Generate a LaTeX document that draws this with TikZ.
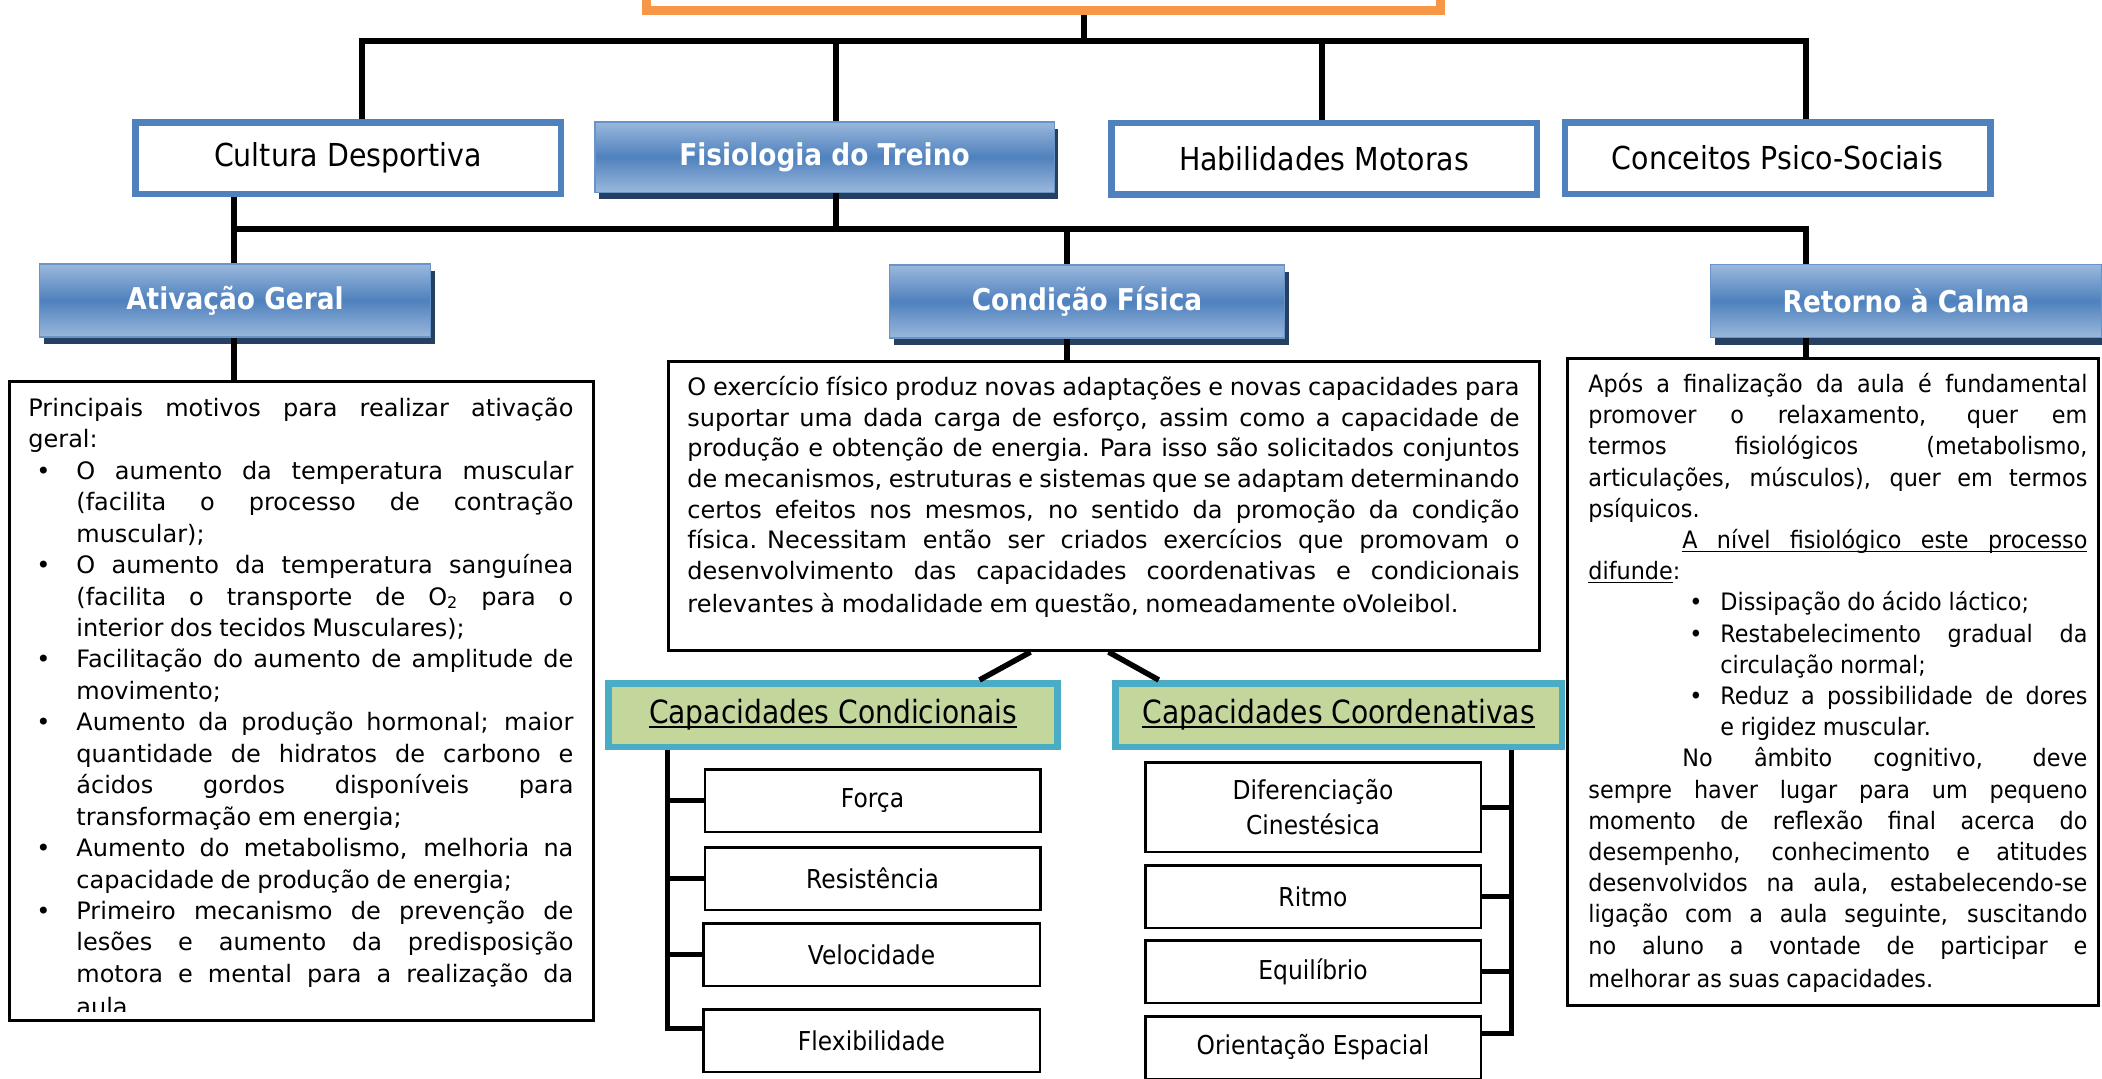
\documentclass[tikz,border=0pt]{standalone}
\usepackage{fontspec}
\setmainfont{DejaVu Sans}
\newfontfamily\labfont{DejaVu Sans}[FakeStretch=0.9]
\newfontfamily\gfont{DejaVu Sans}[FakeStretch=0.88]
\newfontfamily\rfont{DejaVu Sans}[FakeStretch=0.93]
\usetikzlibrary{shadows,calc}
\definecolor{bluebd}{HTML}{4F81BD}
\definecolor{bluelt}{HTML}{9AB8DC}
\definecolor{shadowc}{HTML}{254061}
\definecolor{orangec}{HTML}{F79646}
\definecolor{tealc}{HTML}{4BACC6}
\definecolor{greenf}{HTML}{C3D69B}
\newlength\tw \newlength\bpos \newlength\bind
\newcommand\jsp{\spaceskip=\fontdimen2\font plus \fontdimen2\font minus 0.45\fontdimen2\font\relax}
\newcommand\jl[1]{\strut\makebox[\tw][s]{\jsp#1}}
\newcommand\lastl[1]{\strut#1}
\newcommand\bjl[1]{\strut\hspace*{\bpos}\makebox[\dimexpr\bind-\bpos\relax][l]{\textbullet}\makebox[\dimexpr\tw-\bind\relax][s]{\jsp#1}}
\newcommand\bll[1]{\strut\hspace*{\bpos}\makebox[\dimexpr\bind-\bpos\relax][l]{\textbullet}#1}
\newcommand\ijl[1]{\strut\hspace*{\bind}\makebox[\dimexpr\tw-\bind\relax][s]{\jsp#1}}
\newcommand\ill[1]{\strut\hspace*{\bind}#1}
\newcommand\ulw[1]{\setbox0=\hbox{#1}\rlap{\rule[-1.9pt]{\wd0}{0.7pt}}\box0}
\newcommand\ulbox[2]{\rlap{\rule[-1.9pt]{#1}{0.7pt}}\makebox[#1][s]{\jsp#2}}
\begin{document}
\begin{tikzpicture}[x=0.5pt,y=-0.5pt,
  bus/.style={line width=3pt,line join=miter},
  catbox/.style={draw=bluebd,line width=3.25pt,fill=white,inner sep=0pt,font=\labfont\fontsize{15.8}{18}\selectfont,minimum width=212.75pt,minimum height=35.75pt},
  gradbox/.style={draw=bluebd!85!white,line width=0.75pt,top color=bluelt,bottom color=bluelt,middle color=bluebd,text=white,inner sep=0pt,font=\gfont\bfseries\fontsize{15}{18}\selectfont,drop shadow={shadow xshift=2pt,shadow yshift=-3.5pt,fill=shadowc,opacity=1},minimum height=36.5pt},
  txtbox/.style={draw=black,line width=1.5pt,fill=white,inner sep=0pt},
  txt/.style={inner sep=0pt,anchor=north west},
  greenbox/.style={draw=tealc,line width=3.25pt,fill=greenf,inner sep=0pt,font=\gfont\fontsize{16}{19}\selectfont,minimum height=31.75pt},
  smallbox/.style={draw=black,line width=1.25pt,fill=white,inner sep=0pt,font=\labfont\fontsize{13}{17.5}\selectfont,align=center,minimum width=167.75pt,minimum height=31.25pt},
  spine/.style={line width=2.5pt,line join=miter},
  diag/.style={line width=2.75pt}]
\useasboundingbox (0,0) rectangle (2102,1078);
\fill[white] (0,0) rectangle (2102,1078);

% title box (cut off at top)
\node[draw=orangec,line width=4.5pt,fill=white,inner sep=0pt,minimum width=397pt,minimum height=57pt] (titulo) at (1043.5,-46.5) {};
\draw[orangec,line width=0.75pt] ($(titulo.south west)+(7,-7)$) rectangle ($(titulo.north east)+(-7,7)$);

% level 2
\node[catbox] (cult) at (348,158) {Cultura Desportiva};
\node[gradbox,minimum width=229.75pt,minimum height=35.25pt] (fis) at (824.5,157) {Fisiologia do Treino};
\node[catbox] (hab) at (1324,158.5) {Habilidades Motoras};
\node[catbox] (conc) at (1777.5,158) {Conceitos Psico-Sociais};

% level 3
\node[gradbox,minimum width=195.5pt] (ativ) at (235,300.5) {Ativação Geral};
\node[gradbox,minimum width=197.5pt] (cond) at (1087,301.5) {Condição Física};
\node[gradbox,minimum width=195.5pt] (ret) at (1906,301) {Retorno à Calma};

% bus 1
\coordinate (b1L) at (362,41);
\coordinate (b1F) at (836,41);
\coordinate (b1M) at (1084,41);
\coordinate (b1H) at (1322,41);
\coordinate (b1R) at (1806,41);
\draw[bus] (b1M |- titulo.south) -- (b1M);
\draw[bus] (b1L |- cult.north) -- (b1L) -- (b1R) -- (b1R |- conc.north);
\draw[bus] (b1F) -- (b1F |- fis.north);
\draw[bus] (b1H) -- (b1H |- hab.north);

% bus 2
\coordinate (b2L) at (234,228.5);
\coordinate (b2F) at (836,228.5);
\coordinate (b2C) at (1067,228.5);
\coordinate (b2R) at (1806,228.5);
\draw[bus] (b2L |- cult.south) -- (b2L |- ativ.north);
\draw[bus] (b2L) -- (b2R) -- (b2R |- ret.north);
\draw[bus] (b2F |- fis.south) -- (b2F);
\draw[bus] (b2C) -- (b2C |- cond.north);

% text boxes
\node[txtbox,minimum width=292pt,minimum height=319.5pt] (agbox) at (301.5,701) {};
\node[txtbox,minimum width=435.5pt,minimum height=144.5pt] (fcbox) at (1104,506) {};
\node[txtbox,minimum width=265.5pt,minimum height=323.5pt] (rcbox) at (1833,682) {};
\draw[bus] (ativ.south -| b2L) -- (agbox.north -| b2L);
\draw[bus] (cond.south -| b2C) -- (fcbox.north -| b2C);
\draw[bus] (ret.south -| b2R) -- (rcbox.north -| b2R);

\begin{scope}
\clip (10,382) rectangle (593,1011);
\node[txt,text width=272.5pt] (agtxt) at (28,394) {\fontsize{12}{15.72}\selectfont\setlength\tw{272.5pt}\setlength\bpos{4pt}\setlength\bind{24pt}\noindent
\jl{Principais motivos para realizar ativação}\\
\lastl{geral:}\\
\bjl{O aumento da temperatura muscular}\\
\ijl{(facilita o processo de contração}\\
\ill{muscular);}\\
\bjl{O aumento da temperatura sanguínea}\\
\ijl{(facilita o transporte de O\textsubscript{2} para o}\\
\ill{interior dos tecidos Musculares);}\\
\bjl{Facilitação do aumento de amplitude de}\\
\ill{movimento;}\\
\bjl{Aumento da produção hormonal; maior}\\
\ijl{quantidade de hidratos de carbono e}\\
\ijl{ácidos gordos disponíveis para}\\
\ill{transformação em energia;}\\
\bjl{Aumento do metabolismo, melhoria na}\\
\ill{capacidade de produção de energia;}\\
\bjl{Primeiro mecanismo de prevenção de}\\
\ijl{lesões e aumento da predisposição}\\
\ijl{motora e mental para a realização da}\\
\ill{aula.}};
\end{scope}

\node[txt,text width=416pt] (fctxt) at (687,373.5) {\fontsize{12}{15.35}\selectfont\setlength\tw{416pt}\noindent
\jl{O exercício físico produz novas adaptações e novas capacidades para}\\
\jl{suportar uma dada carga de esforço, assim como a capacidade de}\\
\jl{produção e obtenção de energia. Para isso são solicitados conjuntos}\\
\jl{de mecanismos, estruturas e sistemas que se adaptam determinando}\\
\jl{certos efeitos nos mesmos, no sentido da promoção da condição}\\
\jl{física. Necessitam então ser criados exercícios que promovam o}\\
\jl{desenvolvimento das capacidades coordenativas e condicionais}\\
\lastl{relevantes à modalidade em questão, nomeadamente oVoleibol.}};

\node[txt,text width=249.5pt] (rctxt) at (1588,370.2) {\rfont\fontsize{12}{15.6}\selectfont\setlength\tw{249.5pt}\setlength\bpos{50.5pt}\setlength\bind{66pt}\noindent
\jl{Após a finalização da aula é fundamental}\\
\jl{promover o relaxamento, quer em}\\
\jl{termos fisiológicos (metabolismo,}\\
\jl{articulações, músculos), quer em termos}\\
\lastl{psíquicos.}\\
\strut\hspace*{47pt}\ulbox{\dimexpr\tw-47pt\relax}{A nível fisiológico este processo}\\
\strut\ulw{difunde}:\\
\bll{Dissipação do ácido láctico;}\\
\bjl{Restabelecimento gradual da}\\
\ill{circulação normal;}\\
\bjl{Reduz a possibilidade de dores}\\
\ill{e rigidez muscular.}\\
\strut\hspace*{47pt}\makebox[\dimexpr\tw-47pt\relax][s]{\jsp No âmbito cognitivo, deve}\\
\jl{sempre haver lugar para um pequeno}\\
\jl{momento de reflexão final acerca do}\\
\jl{desempenho, conhecimento e atitudes}\\
\jl{desenvolvidos na aula, estabelecendo-se}\\
\jl{ligação com a aula seguinte, suscitando}\\
\jl{no aluno a vontade de participar e}\\
\lastl{melhorar as suas capacidades.}};

% capacities
\node[greenbox,minimum width=224.5pt] (ccond) at (833,715) {\ulw{Capacidades Condicionais}};
\node[greenbox,minimum width=223.25pt] (ccoord) at (1338.5,715) {\ulw{Capacidades Coordenativas}};
\draw[diag] ($(fcbox.south west)+(363.5,0)$) -- ($(ccond.north west)+(374.25,0)$);
\draw[diag] ($(fcbox.south west)+(441.5,0)$) -- ($(ccoord.north west)+(46.75,0)$);

\node[smallbox] (forca) at (872.5,800.5) {Força};
\node[smallbox] (resist) at (872.5,878.5) {Resistência};
\node[smallbox,minimum width=168.25pt] (veloc) at (871.5,954.5) {Velocidade};
\node[smallbox,minimum width=168.25pt] (flex) at (871.5,1040.5) {Flexibilidade};
\node[smallbox,minimum height=44.75pt] (difer) at (1313,807) {Diferenciação\\Cinestésica};
\node[smallbox] (ritmo) at (1313,896.5) {Ritmo};
\node[smallbox] (equil) at (1313,971.5) {Equilíbrio};
\node[smallbox] (orient) at (1313,1047.5) {Orientação Espacial};

\coordinate (spL) at (667,0);
\coordinate (spR) at (1511,0);
\coordinate (fS) at (702,1028);
\coordinate (oS) at (1482,1033);
\draw[spine] (spL |- ccond.south) -- (spL |- fS) -- (fS);
\draw[spine] (spL |- forca.west) -- (forca.west);
\draw[spine] (spL |- resist.west) -- (resist.west);
\draw[spine] (spL |- veloc.west) -- (veloc.west);
\draw[spine] (spR |- ccoord.south) -- (spR |- oS) -- (oS);
\draw[spine] (spR |- difer.east) -- (difer.east);
\draw[spine] (spR |- ritmo.east) -- (ritmo.east);
\draw[spine] (spR |- equil.east) -- (equil.east);
\end{tikzpicture}
\end{document}
